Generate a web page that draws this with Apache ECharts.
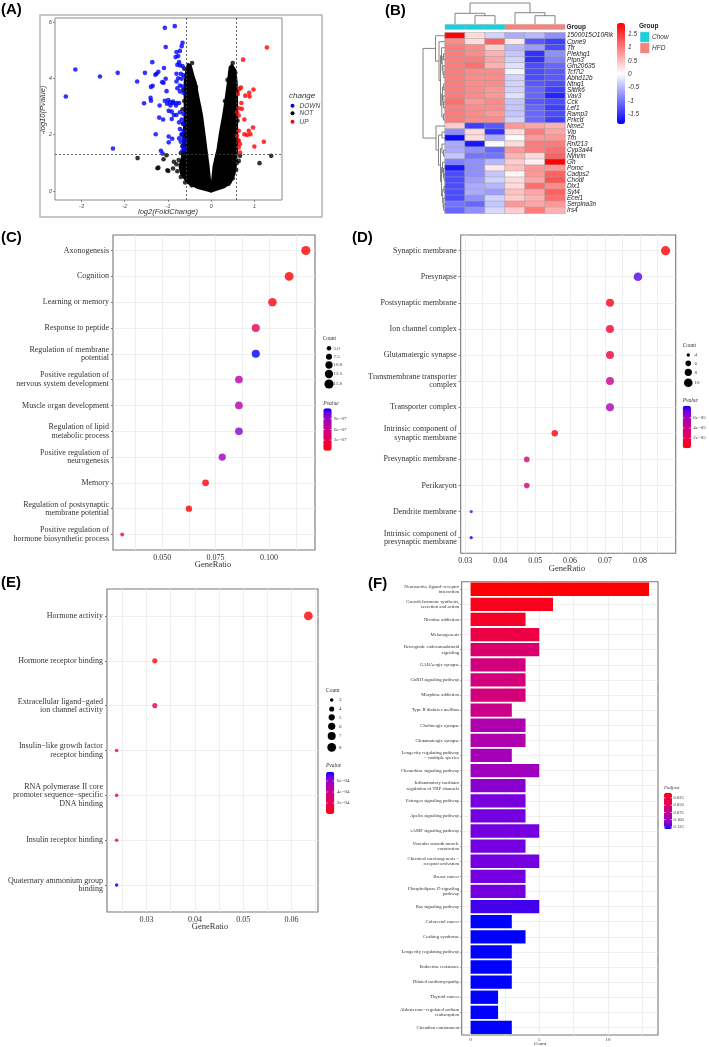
<!DOCTYPE html>
<html>
<head>
<meta charset="utf-8">
<script src="https://cdn.jsdelivr.net/npm/echarts@6.0.0/dist/echarts.min.js"></script>
<style>
html,body{margin:0;padding:0;background:#ffffff;}
#chart{width:709px;height:1047px;}
</style>
</head>
<body>
<div id="chart"></div>
<script>
// ================= DATA =================
// ---- Panel A: volcano plot ----
const volcanoDown = [[-3.36,3.36],[-3.14,4.32],[-2.57,4.07],[-2.16,4.2],[-2.27,1.51],[-1.71,3.89],[-1.55,3.12],[-1.53,4.2],[-1.40,3.31],[-1.39,3.21],[-1.39,3.70],[-1.35,3.74],[-1.36,4.58],[-1.29,4.13],[-1.22,4.24],[-1.28,2.02],[-1.19,3.04],[-1.20,2.61],[-1.11,2.54],[-1.16,1.43],[-1.12,1.33],[-1.09,4.37],[-1.10,3.85],[-1.07,5.80],[-1.05,5.12],[-1.05,3.99],[-1.03,3.55],[-1.02,3.10],[-0.99,3.23],[-0.98,2.85],[-0.98,1.94],[-0.98,1.73],[-0.94,3.04],[-0.91,2.56],[-0.90,1.86],[-0.88,3.18],[-0.86,2.70],[-0.84,5.86],[-0.66,5.27],[-0.68,5.15],[-0.80,4.94],[-0.82,4.76],[-0.74,4.58],[-0.72,4.46],[-0.72,4.98],[-0.76,4.80],[-0.78,4.49],[-0.66,4.44],[-0.80,4.17],[-0.70,4.17],[-0.64,4.11],[-0.76,4.01],[-0.68,3.99],[-0.80,3.89],[-0.72,3.75],[-0.66,3.71],[-0.78,3.65],[-0.72,3.54],[-0.64,3.49],[-0.88,3.13],[-0.80,3.13],[-0.74,3.13],[-0.81,3.04],[-0.91,2.82],[-0.72,2.80],[-0.80,2.70],[-0.64,2.74],[-0.68,2.54],[-0.74,2.44],[-0.64,2.38],[-0.72,2.20],[-0.64,2.14],[-0.68,2.02],[-0.74,1.87],[-0.64,1.87],[-0.70,1.75],[-0.60,1.73],[-0.66,1.58],[-0.60,1.49],[-0.66,1.43],[-0.95,3.15],[-1.07,3.21],[-1.13,3.87],[-1.26,4.17]];
const volcanoUp = [[1.29,5.10],[0.74,4.67],[0.98,3.61],[0.88,3.49],[0.79,3.39],[0.89,3.36],[0.69,3.68],[0.65,3.63],[0.62,3.45],[0.70,3.13],[0.64,2.94],[0.71,2.92],[0.60,2.80],[0.64,2.68],[0.77,2.54],[0.97,2.26],[0.87,2.14],[0.91,2.02],[0.77,2.02],[0.83,1.99],[0.64,2.14],[0.60,1.96],[0.64,1.79],[0.67,1.67],[1.22,1.75],[1.00,1.58],[0.64,1.55],[0.67,1.37]];
const volcanoNot = [[1.12,0.99],[1.39,1.25],[-1.70,1.17],[-1.24,0.81],[-1.10,1.13],[-1.03,1.27],[-1.01,0.74],[-0.88,0.80],[-0.86,1.04],[-1.22,0.83],[-0.99,0.71],[-0.60,0.65],[0.67,1.25],[0.64,1.07],
  [-0.62,4.35],[-0.58,4.1],[-0.64,3.6],[-0.62,3.2],[-0.66,2.9],[-0.65,2.4],[-0.68,2.0],[-0.66,1.6],[-0.7,1.35],[-0.75,1.1],[-0.8,0.95],[-0.78,0.7],[-0.7,0.5],[-0.6,0.3],[-0.45,0.2],[-0.44,4.55],[-0.35,3.7],[-0.28,3.0],
  [0.5,4.55],[0.56,4.2],[0.6,3.55],[0.61,2.5],[0.61,1.8],[0.6,1.0],[0.58,0.75],[0.5,0.45],[0.4,0.25],[0.38,3.95],[0.32,3.2]];
const volcanoNotLeftArm = [[0,0],[-0.3,0.12],[-0.53,0.3],[-0.68,0.6],[-0.72,0.89],[-0.66,1.2],[-0.64,1.49],[-0.62,2.1],[-0.60,2.68],[-0.60,3.3],[-0.60,3.87],[-0.56,4.3],[-0.53,4.5],[-0.48,4.45],[-0.42,4.1],[-0.37,3.87],[-0.30,3.3],[-0.22,2.68],[-0.17,2.1],[-0.12,1.49],[-0.07,0.89],[-0.03,0.3]];
const volcanoNotRightArm = [[0,0],[0.3,0.15],[0.44,0.3],[0.53,0.6],[0.56,0.89],[0.59,1.49],[0.59,2.1],[0.59,2.68],[0.59,3.3],[0.58,3.87],[0.55,4.3],[0.48,4.46],[0.44,4.4],[0.40,3.87],[0.35,3.3],[0.29,2.68],[0.22,2.1],[0.16,1.49],[0.07,0.89],[0.03,0.3]];
const volcanoXTicks = [-3,-2,-1,0,1];
const volcanoYTicks = [0,2,4,6];
const volcanoFcCut = 0.585;
const volcanoPCut = 1.3;
const volcanoClasses = ['DOWN','NOT','UP'];

// ---- Panel B: heatmap ----
const heatGenes = ['1500015O10Rik','Cpne9','Ttr','Plekhg1','Ptpn3','Gm20635','Tcf7l2','Abhd12b','Ntng1','Slitrk6','Vav3','Cck','Lef1','Ramp3','Prkcd','Nme2','Vip','Trh','Rnf213','Cyp3a44','Nynrin','Gh','Pomc','Cadps2','Chodl','Dlx1','Syt4','Ecel1','Serpina3n','Irs4'];
const heatSamples = ['Chow1','Chow2','Chow3','HFD1','HFD2','HFD3'];
const heatGroups = ['Chow','Chow','Chow','HFD','HFD','HFD'];
const heatGroupNames = ['Chow','HFD'];
const heatValues = [
 [1.9,0.3,-0.3,-0.6,-0.5,-0.8],
 [0.9,0.3,1.2,0.2,-1.2,-1.4],
 [1.0,0.9,0.4,-0.5,-0.7,-1.3],
 [1.0,0.9,0.6,-0.4,-1.5,-0.8],
 [1.0,1.0,0.7,-0.3,-1.5,-0.9],
 [1.0,1.1,0.6,-0.2,-1.3,-1.1],
 [1.0,0.9,0.9,-0.05,-1.3,-1.2],
 [1.0,0.9,0.9,-0.3,-1.3,-1.2],
 [1.0,0.9,0.9,-0.3,-1.2,-1.3],
 [1.0,0.9,0.8,-0.3,-1.1,-1.4],
 [1.0,0.9,0.8,-0.2,-1.1,-1.6],
 [1.1,0.8,0.9,-0.4,-1.2,-1.3],
 [1.0,0.9,0.9,-0.4,-1.1,-1.4],
 [1.0,0.9,0.8,-0.4,-1.1,-1.3],
 [1.0,0.9,0.9,-0.3,-1.1,-1.4],
 [0.4,-1.4,-1.2,0.8,0.7,0.6],
 [-0.8,0.3,-1.5,0.3,1.0,0.7],
 [-1.8,0.3,-0.6,0.05,0.8,0.8],
 [-0.6,-1.7,0.0,0.3,1.0,1.0],
 [-0.6,-0.8,-1.1,0.8,1.0,1.1],
 [-0.4,-1.0,-1.0,0.6,0.3,1.2],
 [-0.9,-0.8,-0.5,0.4,0.15,1.9],
 [-1.7,-0.8,0.2,0.5,0.8,0.8],
 [-1.3,-0.8,-0.4,0.1,0.8,1.2],
 [-1.3,-0.7,-0.3,0.3,0.7,1.3],
 [-1.3,-0.6,-0.5,0.3,1.1,0.9],
 [-1.3,-0.6,-0.7,0.5,0.7,1.2],
 [-1.3,-0.8,-0.3,0.4,0.6,1.1],
 [-1.0,-1.1,-0.4,0.8,0.7,0.8],
 [-1.1,-0.8,-0.25,0.4,1.0,0.6]];
const heatTicks = [1.5,1,0.5,0,-0.5,-1,-1.5];
const heatRange = [-1.86,1.92];
// dendrograms: [left, right, height]
const colTree = [[0,[1,2,8.3],10.7],[3,[4,5,8.3],11.3],21];
const rowTree = [
  [0,[1,[[2,[[3,4,1.5],[5,[6,7,1.2],2],2.8],3.5],[[[8,9,1.3],[10,[11,12,1.4],2],2.5],[13,14,1.5],3.2],4.5],6],9.5],
  [15,[[16,17,3],[[18,[19,20,1.5],3],[[21,[22,[23,24,1],1.5],2.5],[[25,26,1],[27,[28,29,1.3],1.8],2.3],3.5],4.5],6.5],9],
  22];

// ---- Panel C: GO BP ----
const bpTerms = ['Axonogenesis','Cognition','Learning or memory','Response to peptide','Regulation of membrane\npotential','Positive regulation of\nnervous system development','Muscle organ development','Regulation of lipid\nmetabolic process','Positive regulation of\nneurogenesis','Memory','Regulation of postsynaptic\nmembrane potential','Positive regulation of\nhormone biosynthetic process'];
const bpCount = [15,14,13,12,12,11,11,11,10,9,8,4];
const bpRatio = [0.1172,0.1094,0.1016,0.0938,0.0938,0.0859,0.0859,0.0859,0.0781,0.0703,0.0625,0.0313];
const bpPvalue = [2e-9,1.5e-8,6e-8,3.6e-7,1.2e-6,7.3e-7,7.6e-7,9.8e-7,8.8e-7,4e-8,1e-8,3.4e-7];
const bpCountTicks = [5,7.5,10,12.5,15];
const bpPTicks = [3e-7,6e-7,9e-7];
const bpPLabels = ['3e\u221207','6e\u221207','9e\u221207'];
const bpXTicks = [0.05,0.075,0.1];
const bpXMinor = [0.0375,0.0625,0.0875,0.1125];

// ---- Panel D: GO CC ----
const ccTerms = ['Synaptic membrane','Presynapse','Postsynaptic membrane','Ion channel complex','Glutamatergic synapse','Transmembrane transporter\ncomplex','Transporter complex','Intrinsic component of\nsynaptic membrane','Presynaptic membrane','Perikaryon','Dendrite membrane','Intrinsic component of\npresynaptic membrane'];
const ccCount = [11,10,9,9,9,9,9,7,6,6,4,4];
const ccRatio = [0.0873,0.0794,0.0714,0.0714,0.0714,0.0714,0.0714,0.0556,0.0476,0.0476,0.0317,0.0317];
const ccPvalue = [1e-6,7.6e-5,5e-6,1e-5,1.5e-5,4.2e-5,5.6e-5,3e-6,3.4e-5,3.8e-5,7.4e-5,8.2e-5];
const ccCountTicks = [4,6,8,10];
const ccPTicks = [2e-5,4e-5,6e-5];
const ccPLabels = ['2e\u221205','4e\u221205','6e\u221205'];
const ccXTicks = [0.03,0.04,0.05,0.06,0.07,0.08];
const ccXMinor = [0.035,0.045,0.055,0.065,0.075,0.085];

// ---- Panel E: GO MF ----
const mfTerms = ['Hormone activity','Hormone receptor binding','Extracellular ligand\u2212gated\nion channel activity','Insulin\u2212like growth factor\nreceptor binding','RNA polymerase II core\npromoter sequence\u2212specific\nDNA binding','Insulin receptor binding','Quaternary ammonium group\nbinding'];
const mfCount = [8,4,4,3,3,3,3];
const mfRatio = [0.0635,0.0317,0.0317,0.0238,0.0238,0.0238,0.0238];
const mfPvalue = [5e-6,2.5e-5,2.5e-4,1.5e-4,1.7e-4,2.0e-4,7.7e-4];
const mfCountTicks = [3,4,5,6,7,8];
const mfPTicks = [2e-4,4e-4,6e-4];
const mfPLabels = ['2e\u221204','4e\u221204','6e\u221204'];
const mfXTicks = [0.03,0.04,0.05,0.06];
const mfXMinor = [0.025,0.035,0.045,0.055,0.065];

// ---- Panel F: KEGG ----
const keggTerms = ['Neuroactive ligand\u2212receptor\ninteraction','Growth hormone synthesis,\nsecretion and action','Nicotine addiction','Melanogenesis','Retrograde endocannabinoid\nsignaling','GABAergic synapse','GnRH signaling pathway','Morphine addiction','Type II diabetes mellitus','Cholinergic synapse','Glutamatergic synapse','Longevity regulating pathway\n\u2212 multiple species','Chemokine signaling pathway','Inflammatory mediator\nregulation of TRP channels','Estrogen signaling pathway','Apelin signaling pathway','cAMP signaling pathway','Vascular smooth muscle\ncontraction','Chemical carcinogenesis \u2212\nreceptor activation','Breast cancer','Phospholipase D signaling\npathway','Ras signaling pathway','Colorectal cancer','Cushing syndrome','Longevity regulating pathway','Endocrine resistance','Dilated cardiomyopathy','Thyroid cancer','Aldosterone\u2212regulated sodium\nreabsorption','Circadian entrainment'];
const keggCount = [13,6,4,5,5,4,4,4,3,4,4,3,5,4,4,4,5,4,5,4,4,5,3,4,3,3,3,2,2,3];
const keggPadj = [0.008,0.016,0.02,0.032,0.055,0.062,0.062,0.062,0.07,0.09,0.09,0.095,0.099,0.108,0.115,0.117,0.117,0.117,0.117,0.117,0.117,0.124,0.133,0.133,0.133,0.133,0.133,0.133,0.133,0.133];
const keggPTicks = [0.025,0.05,0.075,0.1,0.125];
const keggPLabels = ['0.025','0.050','0.075','0.100','0.125'];
const keggXTicks = [0,5,10];
const keggXMinor = [2.5,7.5,12.5];

// ================= STYLE / HELPERS =================
const SERIF = '"Liberation Serif","Times New Roman",serif';
const SANS = '"Liberation Sans",Arial,sans-serif';
const labPal = ['#FF0000','#F40031','#E80050','#DA006C','#CA0089','#B500A5','#9A00C3','#7300E0','#0000FF'];
const classColor = {DOWN:'#0000FF', NOT:'#000000', UP:'#FF0000'};
const groupColor = {Chow:'#1ECFD9', HFD:'#F3837D'};
const noLine = {show:false, onZero:false};

function txt(text, x, y, o) {
  o = o || {};
  return {type:'text', x:x, y:y, rotation:o.rot||0, silent:true, z:100,
    style:{text:text, fill:o.color||'#333', fontSize:o.size||8, fontFamily:o.family||SERIF,
      fontWeight:o.weight||'normal', fontStyle:o.style||'normal',
      align:o.align||'left', verticalAlign:o.valign||'middle'}};
}
function sizeScale(cmin,cmax,dmin,dmax){
  return c => Math.sqrt(dmin*dmin + (dmax*dmax-dmin*dmin)*(c-cmin)/(cmax-cmin));
}
const sizeC = sizeScale(4,15,3.8,9.2);
const sizeD = sizeScale(4,11,3.3,9.2);
const sizeE = sizeScale(3,8,3.6,8.8);

function dendro(node){
  if (typeof node === 'number') return {pos:node, h:0, segs:[]};
  const a = dendro(node[0]), b = dendro(node[1]), h = node[2];
  const segs = a.segs.concat(b.segs);
  segs.push([[a.pos,a.h],[a.pos,h],[b.pos,h],[b.pos,b.h]]);
  return {pos:(a.pos+b.pos)/2, h:h, segs:segs};
}
const colSegs = dendro(colTree).segs;
const rowSegs = dendro(rowTree).segs;

const gridBorder = {show:true, borderColor:'#777', borderWidth:1.1, backgroundColor:'#fff'};
const gridColor = '#ebebeb';

function dotAxes(gi, xmin, xmax, major, minor, dec, terms){
  const idx = terms.map((t,i)=>i);
  return {
    x:{gridIndex:gi, type:'value', min:xmin, max:xmax, axisLine:noLine,
      axisTick:{show:false, customValues:major.concat(minor).sort((a,b)=>a-b)},
      axisLabel:{customValues:major, formatter:v=>v.toFixed(dec), fontFamily:SERIF, fontSize:8, color:'#333', margin:4},
      splitLine:{show:true, lineStyle:{color:gridColor, width:0.8}}},
    y:{gridIndex:gi, type:'value', min:-0.6, max:terms.length-0.4, inverse:true, axisLine:noLine,
      axisTick:{show:true, length:2, customValues:idx, lineStyle:{color:'#555', width:0.8}},
      axisLabel:{customValues:idx, formatter:v=>terms[Math.round(v)], fontFamily:SERIF, fontSize:8, color:'#333', lineHeight:8.4, margin:4, align:'right'},
      splitLine:{show:true, lineStyle:{color:gridColor, width:0.8}}}
  };
}
const axC = dotAxes(5, 0.027, 0.1215, bpXTicks, bpXMinor, 3, bpTerms);
const axD = dotAxes(6, 0.0287, 0.0902, ccXTicks, ccXMinor, 2, ccTerms);
const axE = dotAxes(7, 0.0218, 0.0655, mfXTicks, mfXMinor, 2, mfTerms);

const hidden = {show:false};
function hiddenAxis(gi, type, extra){
  return Object.assign({gridIndex:gi, type:type, axisLine:noLine, axisTick:hidden, axisLabel:hidden, splitLine:hidden}, extra||{});
}

// colorbar tick label helpers
function barTicks(vals, labels, top, h, min, max, x, inverse, size){
  return vals.map((v,i)=>{
    const f = inverse ? (v-min)/(max-min) : (max-v)/(max-min);
    return txt(labels[i], x, top + f*h, {size:size||5, family:SERIF, color:'#333'});
  });
}
function barTickMarks(vals, top, h, min, max, x, w, inverse){
  const out = [];
  vals.forEach(v=>{
    const f = inverse ? (v-min)/(max-min) : (max-v)/(max-min);
    const y = top + f*h;
    out.push({type:'line', silent:true, z:101, shape:{x1:x, y1:y, x2:x+w*0.2, y2:y}, style:{stroke:'#fff', lineWidth:0.6}});
    out.push({type:'line', silent:true, z:101, shape:{x1:x+w*0.8, y1:y, x2:x+w, y2:y}, style:{stroke:'#fff', lineWidth:0.6}});
  });
  return out;
}
function sizeLegend(title, ticks, fn, x, ys, lx, tx, ty, fmt){
  const g = [txt(title, tx, ty, {size:5.5, family:SERIF})];
  ticks.forEach((c,i)=>{
    g.push({type:'circle', silent:true, z:100, shape:{cx:x, cy:ys[i], r:fn(c)/2}, style:{fill:'#000'}});
    g.push(txt(fmt(c), lx, ys[i], {size:5, family:SERIF}));
  });
  return g;
}

// ================= GRAPHICS (text, legends, frames) =================
const graphics = [];
// panel letters
[['(A)',1,9.5],['(B)',385,10.5],['(C)',1,237.5],['(D)',352,237.5],['(E)',1,582.5],['(F)',368,584]].forEach(p=>{
  graphics.push(txt(p[0], p[1], p[2], {size:15, weight:'bold', family:SANS, color:'#000'}));
});
// Panel A frame + titles + legend
graphics.push({type:'rect', silent:true, z:0, shape:{x:40, y:15, width:282, height:202}, style:{fill:'transparent', stroke:'#b5b5b5', lineWidth:1.5}});
graphics.push(txt('log2(FoldChange)', 168, 212, {size:7.5, family:SANS, style:'italic', align:'center', color:'#333'}));
graphics.push(txt('-log10(Pvalue)', 43, 110, {size:7.5, family:SANS, style:'italic', align:'center', color:'#333', rot:Math.PI/2}));
graphics.push(txt('change', 289, 96, {size:8, family:SANS, style:'italic', color:'#333'}));
volcanoClasses.forEach((c,i)=>{
  const y = [105.7,113.2,121.7][i];
  graphics.push({type:'circle', silent:true, z:100, shape:{cx:292.5, cy:y, r:2}, style:{fill:classColor[c]}});
  graphics.push(txt(c, 299.5, y, {size:6.5, family:SANS, style:'italic', color:'#444'}));
});
// Panel B extras
graphics.push(txt('Group', 566.5, 27, {size:6.5, family:SANS, weight:'bold', color:'#222'}));
graphics.push(txt('Group', 639, 26.7, {size:6.5, family:SANS, weight:'bold', color:'#222'}));
heatGroupNames.forEach((g,i)=>{
  const y0 = [31.7,42.7][i];
  graphics.push({type:'rect', silent:true, z:100, shape:{x:640, y:y0, width:9.5, height:10.7}, style:{fill:groupColor[g], stroke:'#fff', lineWidth:0.5}});
  graphics.push(txt(g, 652, y0+5.3, {size:6.5, family:SANS, style:'italic', color:'#333'}));
});
graphics.push(...barTicks(heatTicks, heatTicks.map(String), 23, 101, heatRange[0], heatRange[1], 628, false, 6.5).map(e=>{e.style.fontFamily=SANS; e.style.fontStyle='italic'; return e;}));
// Panel C legends & axis title
graphics.push(txt('GeneRatio', 213, 565, {size:8.5, align:'center'}));
graphics.push(...sizeLegend('Count', bpCountTicks, sizeC, 329, [348.3,356.7,365,374,384], 333.6, 322.7, 339, c=>c.toFixed(1)));
graphics.push(txt('Pvalue', 323.3, 403.5, {size:5.5, style:'italic'}));
graphics.push(...barTicks(bpPTicks, bpPLabels, 408.3, 42.4, 0, 1.2e-6, 334, false));
graphics.push(...barTickMarks(bpPTicks, 408.3, 42.4, 0, 1.2e-6, 323.3, 8.4, false));
// Panel D
graphics.push(txt('GeneRatio', 567, 568.5, {size:8.5, align:'center'}));
graphics.push(...sizeLegend('Count', ccCountTicks, sizeD, 688.3, [355,363.3,372.3,382.7], 694.5, 682.7, 346, c=>String(c)));
graphics.push(txt('Pvalue', 682.7, 401, {size:5.5, style:'italic'}));
graphics.push(...barTicks(ccPTicks, ccPLabels, 405.7, 42.6, 0, 8.4e-5, 693.3, false));
graphics.push(...barTickMarks(ccPTicks, 405.7, 42.6, 0, 8.4e-5, 682.7, 8.3, false));
// Panel E
graphics.push(txt('GeneRatio', 210, 926.7, {size:8.5, align:'center'}));
graphics.push(...sizeLegend('Count', mfCountTicks, sizeE, 331.7, [700,709,717.3,726.3,736,747.3], 339, 326, 690.7, c=>String(c)));
graphics.push(txt('Pvalue', 326, 766, {size:5.5, style:'italic'}));
graphics.push(...barTicks(mfPTicks, mfPLabels, 771.7, 42.3, 0, 7.7e-4, 337, false));
graphics.push(...barTickMarks(mfPTicks, 771.7, 42.3, 0, 7.7e-4, 326, 8.3, false));
// Panel F
graphics.push(txt('Count', 540, 1043.5, {size:5, align:'center'}));
graphics.push(txt('Padjust', 664, 788, {size:5, style:'italic'}));
graphics.push(...barTicks(keggPTicks, keggPLabels, 792.7, 36.6, 0.007, 0.133, 673.5, true, 4.5));
graphics.push(...barTickMarks(keggPTicks, 792.7, 36.6, 0.007, 0.133, 664, 8, true));

// ================= OPTION =================
const option = {
  animation:false,
  backgroundColor:'#ffffff',
  grid:[
    {left:55, top:18, width:227, height:182, show:true, borderColor:'#8a8a8a', borderWidth:1, backgroundColor:'#fff'}, // 0 A
    {left:445, top:0, width:120, height:24}, // 1 B top dendro
    {left:445, top:24.3, width:120, height:5.2}, // 2 B group bar
    {left:445, top:32.7, width:120, height:180.6}, // 3 B heatmap
    {left:423, top:32.7, width:22, height:180.6}, // 4 B left dendro
    Object.assign({left:113, top:235, width:202, height:315}, gridBorder), // 5 C
    Object.assign({left:460.7, top:235, width:215, height:318.3}, gridBorder), // 6 D
    Object.assign({left:107, top:589, width:211, height:323}, gridBorder), // 7 E
    Object.assign({left:461.7, top:581.7, width:196.3, height:453.3}, gridBorder) // 8 F
  ],
  xAxis:[
    {gridIndex:0, type:'value', min:-3.61, max:1.64, axisLine:noLine,
      axisTick:{show:true, length:2, customValues:volcanoXTicks, lineStyle:{color:'#666', width:0.7}},
      axisLabel:{customValues:volcanoXTicks, fontFamily:SANS, fontSize:6, color:'#555', margin:3, fontStyle:'italic'}, splitLine:{show:false}},
    hiddenAxis(1,'value',{min:-0.5, max:5.5}),
    hiddenAxis(2,'category',{data:heatSamples}),
    hiddenAxis(3,'category',{data:heatSamples}),
    hiddenAxis(4,'value',{min:0, max:22, inverse:true}),
    axC.x, axD.x, axE.x,
    {gridIndex:8, type:'value', min:-0.65, max:13.65, axisLine:noLine,
      axisTick:{show:false, customValues:keggXTicks.concat(keggXMinor).sort((a,b)=>a-b)},
      axisLabel:{customValues:keggXTicks, fontFamily:SERIF, fontSize:5, color:'#333', margin:2},
      splitLine:{show:true, lineStyle:{color:gridColor, width:0.8}}}
  ],
  yAxis:[
    {gridIndex:0, type:'value', min:-0.32, max:6.15, axisLine:noLine,
      axisTick:{show:true, length:2, customValues:volcanoYTicks, lineStyle:{color:'#666', width:0.7}},
      axisLabel:{customValues:volcanoYTicks, fontFamily:SANS, fontSize:6, color:'#555', margin:3, fontStyle:'italic'}, splitLine:{show:false}},
    hiddenAxis(1,'value',{min:0, max:24}),
    hiddenAxis(2,'value',{min:0, max:1}),
    {gridIndex:3, type:'category', data:heatGenes, inverse:true, position:'right', axisLine:noLine, axisTick:hidden, splitLine:hidden,
      axisLabel:{show:true, interval:0, fontFamily:SANS, fontStyle:'italic', fontSize:6.4, color:'#222', margin:2}},
    hiddenAxis(4,'value',{min:-0.5, max:29.5, inverse:true}),
    axC.y, axD.y, axE.y,
    {gridIndex:8, type:'category', data:keggTerms, inverse:true, axisLine:noLine,
      axisTick:{show:true, length:1.5, alignWithLabel:true, lineStyle:{color:'#555', width:0.6}},
      axisLabel:{interval:0, fontFamily:SERIF, fontSize:4.8, lineHeight:5.4, color:'#333', margin:2.5},
      splitLine:{show:false}},
    // 9: companion value axis on grid F, only for the horizontal grid lines at each category
    {gridIndex:8, type:'value', min:-0.5, max:keggTerms.length-0.5, inverse:true, position:'right',
      axisLine:noLine, axisLabel:hidden,
      axisTick:{show:false, customValues:keggTerms.map((t,i)=>i)},
      splitLine:{show:true, lineStyle:{color:gridColor, width:0.8}}}
  ],
  visualMap:[
    {type:'continuous', seriesIndex:7, dimension:2, min:heatRange[0], max:heatRange[1], inRange:{color:['#0000FF','#FFFFFF','#FF0000']},
      orient:'vertical', left:617, top:23, itemWidth:8, itemHeight:101, calculable:false, padding:0, hoverLink:false, realtime:false},
    {type:'continuous', seriesIndex:9, dimension:2, min:0, max:1.2e-6, inRange:{color:labPal},
      orient:'vertical', left:323.3, top:408.3, itemWidth:8.4, itemHeight:42.4, calculable:false, padding:0, hoverLink:false},
    {type:'continuous', seriesIndex:10, dimension:2, min:0, max:8.4e-5, inRange:{color:labPal},
      orient:'vertical', left:682.7, top:405.7, itemWidth:8.3, itemHeight:42.6, calculable:false, padding:0, hoverLink:false},
    {type:'continuous', seriesIndex:11, dimension:2, min:0, max:7.7e-4, inRange:{color:labPal},
      orient:'vertical', left:326, top:771.7, itemWidth:8.3, itemHeight:42.3, calculable:false, padding:0, hoverLink:false},
    {type:'continuous', seriesIndex:12, dimension:2, min:0.007, max:0.133, inRange:{color:labPal}, inverse:true,
      orient:'vertical', left:664, top:792.7, itemWidth:8, itemHeight:36.6, calculable:false, padding:0, hoverLink:false}
  ],
  series:[
    // 0,1: dense NOT cloud (envelope)
    {type:'custom', xAxisIndex:0, yAxisIndex:0, data:[[0,0]], z:1, silent:true,
      renderItem:(p,api)=>({type:'polygon', shape:{points:volcanoNotLeftArm.map(q=>api.coord(q))}, style:{fill:'#000', stroke:'#000', lineWidth:3, lineJoin:'round'}})},
    {type:'custom', xAxisIndex:0, yAxisIndex:0, data:[[0,0]], z:1, silent:true,
      renderItem:(p,api)=>({type:'polygon', shape:{points:volcanoNotRightArm.map(q=>api.coord(q))}, style:{fill:'#000', stroke:'#000', lineWidth:3, lineJoin:'round'}})},
    // 2 NOT points
    {type:'scatter', xAxisIndex:0, yAxisIndex:0, data:volcanoNot, symbolSize:4.6, itemStyle:{color:classColor.NOT}, z:2, silent:true},
    // 3 DOWN
    {type:'scatter', xAxisIndex:0, yAxisIndex:0, data:volcanoDown, symbolSize:4.6, itemStyle:{color:classColor.DOWN}, z:3, silent:true,
      markLine:{silent:true, symbol:'none', label:{show:false}, lineStyle:{color:'#444', type:[2,2], width:0.8},
        data:[{xAxis:-volcanoFcCut},{xAxis:volcanoFcCut},{yAxis:volcanoPCut}]}},
    // 4 UP
    {type:'scatter', xAxisIndex:0, yAxisIndex:0, data:volcanoUp, symbolSize:4.6, itemStyle:{color:classColor.UP}, z:3, silent:true},
    // 5 top dendrogram
    {type:'custom', xAxisIndex:1, yAxisIndex:1, data:[[0,0]], silent:true, clip:false,
      renderItem:(p,api)=>({type:'group', children:colSegs.map(s=>({type:'polyline', shape:{points:s.map(q=>api.coord(q))}, style:{stroke:'#666', lineWidth:0.8, fill:null}}))})},
    // 6 group annotation bar
    {type:'custom', xAxisIndex:2, yAxisIndex:2, data:heatGroups.map((g,i)=>[i,1]), silent:true,
      renderItem:(p,api)=>{
        const i = api.value(0); const w = api.size([1,0])[0];
        const c0 = api.coord([i,1]); const c1 = api.coord([i,0]);
        return {type:'rect', shape:{x:c0[0]-w/2, y:c0[1], width:w, height:c1[1]-c0[1]}, style:{fill:groupColor[heatGroups[i]], stroke:'#b0b0b0', lineWidth:0.4}};
      }},
    // 7 heatmap
    {type:'heatmap', xAxisIndex:3, yAxisIndex:3, silent:true,
      data:heatValues.flatMap((row,r)=>row.map((v,c)=>[c,r,v])),
      itemStyle:{borderColor:'#a3a3a3', borderWidth:0.5}},
    // 8 left dendrogram
    {type:'custom', xAxisIndex:4, yAxisIndex:4, data:[[0,0]], silent:true, clip:false,
      renderItem:(p,api)=>({type:'group', children:rowSegs.map(s=>({type:'polyline', shape:{points:s.map(q=>api.coord([q[1],q[0]]))}, style:{stroke:'#666', lineWidth:0.8, fill:null}}))})},
    // 9 C
    {type:'scatter', xAxisIndex:5, yAxisIndex:5, silent:true, data:bpRatio.map((r,i)=>[r,i,bpPvalue[i],bpCount[i]]), symbolSize:v=>sizeC(v[3])},
    // 10 D
    {type:'scatter', xAxisIndex:6, yAxisIndex:6, silent:true, data:ccRatio.map((r,i)=>[r,i,ccPvalue[i],ccCount[i]]), symbolSize:v=>sizeD(v[3])},
    // 11 E
    {type:'scatter', xAxisIndex:7, yAxisIndex:7, silent:true, data:mfRatio.map((r,i)=>[r,i,mfPvalue[i],mfCount[i]]), symbolSize:v=>sizeE(v[3])},
    // 12 F
    {type:'bar', xAxisIndex:8, yAxisIndex:8, silent:true, barWidth:'88%', encode:{x:0, y:1},
      data:keggCount.map((c,i)=>[c,i,keggPadj[i]])}
  ],
  graphic:graphics
};
const chart = echarts.init(document.getElementById('chart'), null, {renderer:'canvas', width:709, height:1047});
chart.setOption(option);
</script>
</body>
</html>
